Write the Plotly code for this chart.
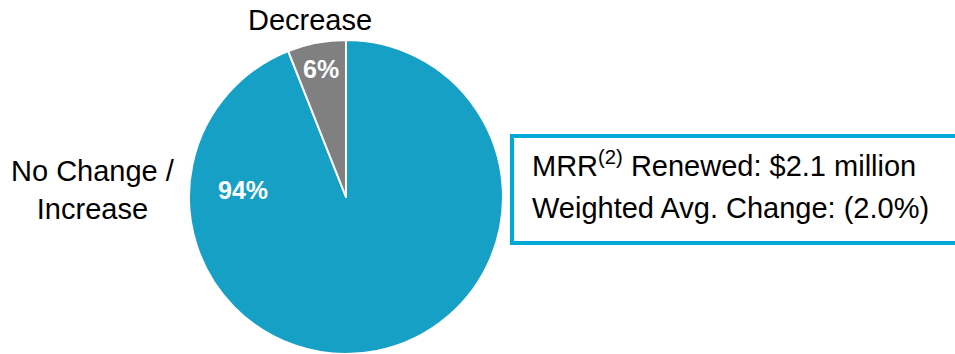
import plotly.graph_objects as go

# Renewal outcome split (share of renewed MRR)
categories = ["No Change / Increase", "Decrease"]
shares = [94, 6]
slice_colors = ["#16A0C6", "#808080"]

# Summary box text
mrr_renewed = "$2.1 million"
weighted_avg_change = "(2.0%)"

W, H = 955, 354


def px(x):
    return x / W


def py(y):
    return 1 - y / H


fig = go.Figure(
    go.Pie(
        labels=categories,
        values=shares,
        sort=False,
        direction="clockwise",
        marker=dict(colors=slice_colors, line=dict(color="white", width=2)),
        textinfo="none",
        hoverinfo="label+percent",
        showlegend=False,
        domain=dict(x=[189 / W, 503 / W], y=[0, 314 / H]),
    )
)

total = sum(shares)
pct = [f"{round(v / total * 100)}%" for v in shares]

label_font = dict(family="Liberation Sans, Arial, sans-serif", size=29, color="#000000")
pct_font = dict(family="Liberation Sans, Arial, sans-serif", size=25, color="#FFFFFF")

annotations = [
    # category labels outside the pie
    dict(text=categories[1], x=px(310), y=py(20), xanchor="center", yanchor="middle",
         font=label_font),
    dict(text="No Change /<br>Increase", x=px(93), y=py(190), xanchor="center",
         yanchor="middle", font=label_font),
    # percentage labels inside the slices
    dict(text=f"<b>{pct[1]}</b>", x=px(321), y=py(69), xanchor="center", yanchor="middle",
         font=pct_font),
    dict(text=f"<b>{pct[0]}</b>", x=px(243), y=py(190), xanchor="center", yanchor="middle",
         font=pct_font),
    # summary box lines
    dict(text=f"MRR<sup>(2)</sup> Renewed: {mrr_renewed}", x=px(530), y=py(164),
         xanchor="left", yanchor="middle", font=label_font),
    dict(text=f"Weighted Avg. Change: {weighted_avg_change}", x=px(530), y=py(208),
         xanchor="left", yanchor="middle", font=label_font),
]
for a in annotations:
    a.update(xref="paper", yref="paper", showarrow=False)

fig.update_layout(
    width=W,
    height=H,
    margin=dict(l=0, r=0, t=0, b=0),
    paper_bgcolor="white",
    plot_bgcolor="white",
    annotations=annotations,
    shapes=[
        dict(type="rect", xref="paper", yref="paper",
             x0=px(512), x1=px(975), y0=py(243), y1=py(136),
             line=dict(color="#00A9D6", width=4), fillcolor="rgba(0,0,0,0)"),
    ],
)

fig.write_html("out.html")
